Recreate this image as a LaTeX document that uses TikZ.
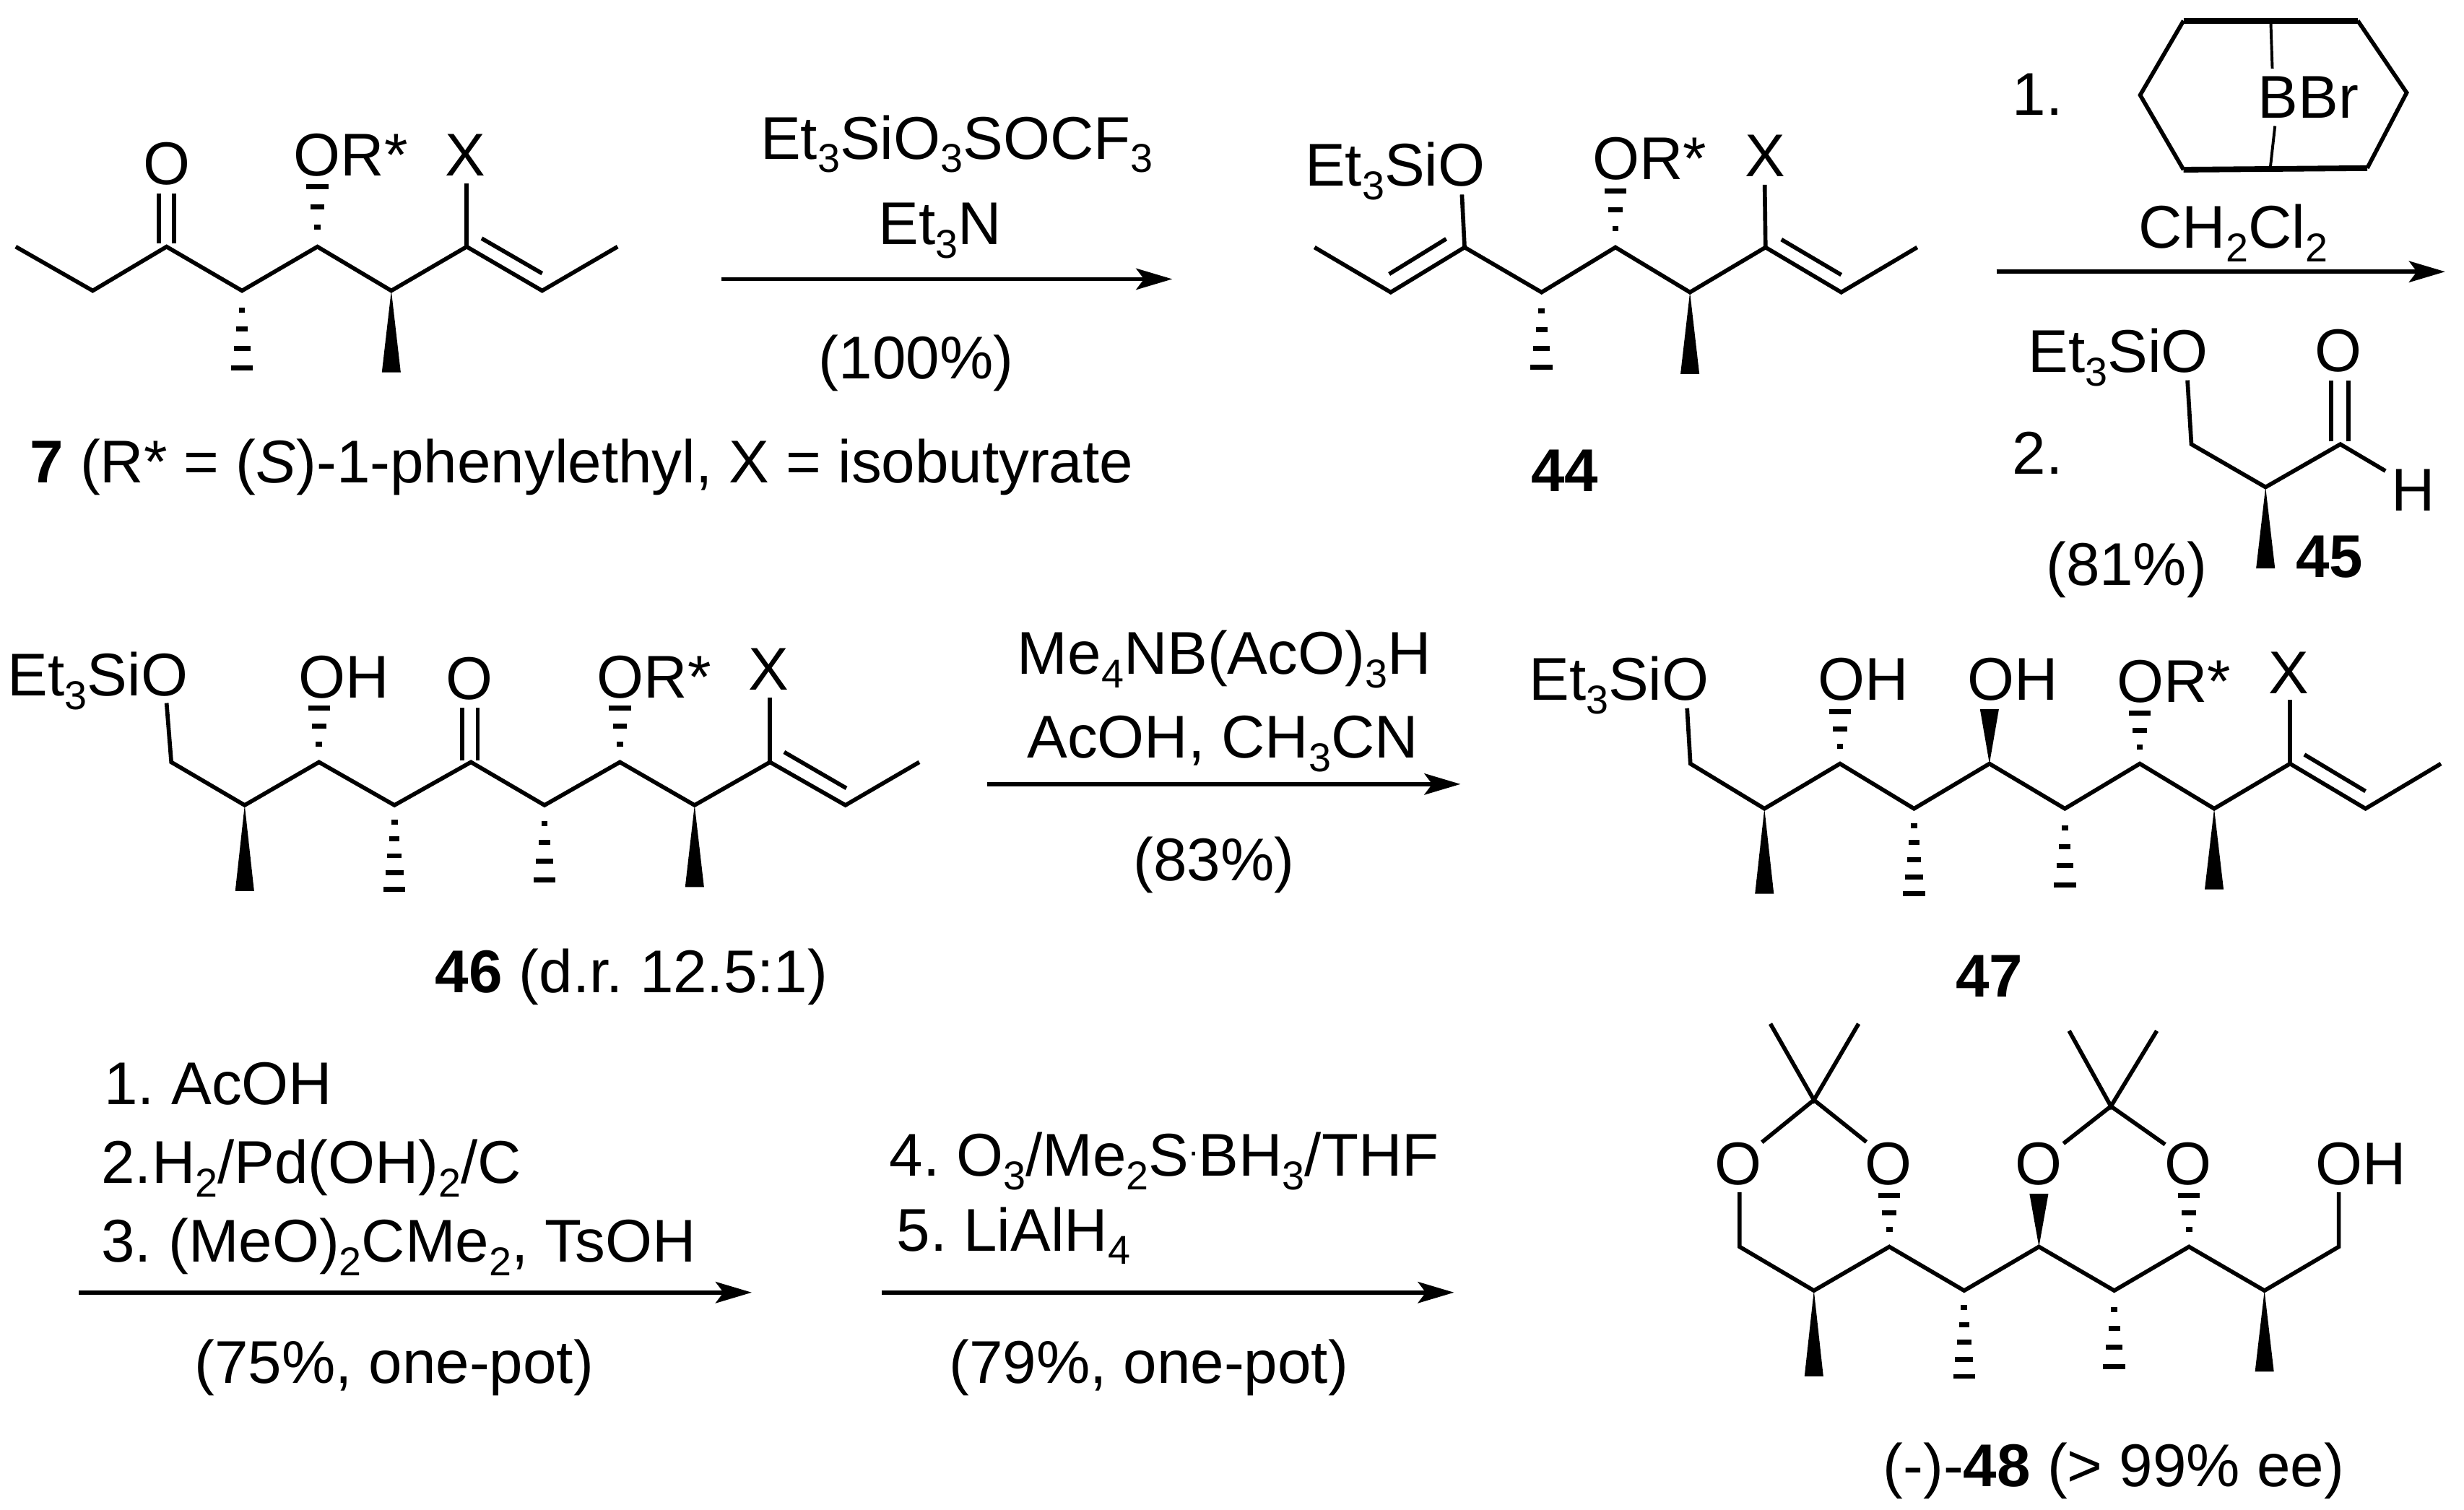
\documentclass[tikz,border=0pt]{standalone}
\usepackage{fontspec}
\setmainfont{Liberation Sans}
\usetikzlibrary{arrows.meta}
\frenchspacing
\newcommand\sbs[1]{\raisebox{-8.6pt}{\fontsize{25.6}{25.6}\selectfont #1}}
\newcommand\hdot{\raisebox{13pt}{\fontsize{22}{22}\selectfont .}}
\newcommand\hashb[4]{\foreach \i in {1,...,#4}{%
  \pgfmathsetmacro\yy{#2+(#3-#2)*\i/#4}%
  \pgfmathsetmacro\ww{2+5*(\i-1)/(#4-1)}%
  \draw[hashmark] (#1-\ww,\yy) -- (#1+\ww,\yy);}}
\newcommand\wedgeb[3]{\fill[black] (#1,#2) -- (#1-6,#3) -- (#1+6,#3) -- cycle;}
\tikzset{
  bond/.style={draw=black,line width=2.6pt,line join=miter},
  thickbond/.style={draw=black,line width=3.6pt,line join=miter},
  hashmark/.style={draw=black,line width=3.2pt},
  rxn/.style={draw=black,line width=2.6pt,-{Stealth[length=23pt,width=13.5pt,inset=5pt]}},
  lab/.style={inner sep=0pt,outer sep=0pt,anchor=base west,font=\fontsize{38.4}{38.4}\selectfont},
  clab/.style={lab,anchor=base},
  blab/.style={font=\fontsize{38.4}{38.4}\selectfont\bfseries}
}
\begin{document}
\begin{tikzpicture}[x=1pt,y=-1pt]
\useasboundingbox (0,0) rectangle (1568,960.5);
% ---------- 7
\draw[bond] (10,157) -- (59,185) -- (106,157) -- (154,185) -- (202,157) -- (249,185) -- (297,157) -- (345,185) -- (393,157);
\draw[bond] (101,155) -- (101,123);
\draw[bond] (110.6,155) -- (110.6,123);
\draw[bond] (297,157) -- (297,116.5);
\draw[bond] (306.5,151.7) -- (345,174);
\hashb{154}{185}{234}{4}
\wedgeb{249}{185}{237}
\hashb{202}{157}{119}{3}
\node[clab] (o7) at (106,117.5) {O};
\node[lab] (or7) at (187,112) {OR*};
\node[clab] (x7) at (296,112) {X};
\node[lab] (t7) at (19,307.2) {\textbf{7} (R* = (\textit{S})-1-phenylethyl, X = isobutyrate};
% arrow 1
\coordinate (a1s) at (459,177.6);
\coordinate (a1e) at (746,177.6);
\draw[rxn] (a1s) -- (a1e);
\node[lab] (r1a) at (484,101.2) {Et\sbs{3}SiO\sbs{3}SOCF\sbs{3}};
\node[lab] (r1b) at (559,155.5) {Et\sbs{3}N};
\node[clab] (r1c) at (583,241.2) {(100\%)};
% ---------- 44
\draw[bond] (836.5,157.4) -- (885,186) -- (932,157.4) -- (981,186) -- (1028,157.4) -- (1075.4,186) -- (1123.5,157.4) -- (1171.7,186) -- (1220,157.4);
\draw[bond] (932,157.4) -- (930.3,123.8);
\draw[bond] (1123.5,157.4) -- (1123,117.6);
\draw[bond] (884,174.4) -- (920.3,152);
\draw[bond] (1133.6,152.4) -- (1171.7,174.9);
\hashb{981}{186}{233.7}{4}
\wedgeb{1075.4}{186}{238}
\hashb{1028}{157.4}{121.6}{3}
\node[lab] (s44) at (830.5,118.5) {Et\sbs{3}SiO};
\node[lab] (or44) at (1013.6,114.3) {OR*};
\node[clab] (x44) at (1123.5,112.5) {X};
\node[clab,blab] (t44) at (995.6,312.5) {44};
% ---------- 9-BBN-Br and reagents
\draw[bond] (1389.5,13.2) -- (1361.9,60.5) -- (1389.5,108);
\draw[bond] (1500.4,13.2) -- (1531.5,59) -- (1506.4,107);
\draw[thickbond] (1389.5,13.2) -- (1500.4,13.2);
\draw[thickbond] (1389.5,108) -- (1506.4,107);
\draw[bond,line width=1.8pt] (1445,13.2) -- (1446,43.6);
\draw[bond,line width=1.8pt] (1447.7,80.2) -- (1444.7,107);
\node[lab] (bbr) at (1437,75.2) {BBr};
\node[lab] (n1) at (1280.6,73.5) {1.};
\node[lab] (cl) at (1361,157.9) {CH\sbs{2}Cl\sbs{2}};
\coordinate (a2s) at (1270.5,172.9);
\coordinate (a2e) at (1556,172.9);
\draw[rxn] (a2s) -- (a2e);
% ---------- 45
\draw[bond] (1392,242) -- (1394.5,282.7) -- (1441.7,310) -- (1489.3,282.7) -- (1518,299.7);
\draw[bond] (1483.3,281) -- (1483.3,242);
\draw[bond] (1494.3,281) -- (1494.3,242);
\wedgeb{1441.7}{310}{361.7}
\node[lab] (s45) at (1290.6,237.1) {Et\sbs{3}SiO};
\node[clab] (o45) at (1487.8,236.5) {O};
\node[clab] (h45) at (1535.5,325.1) {H};
\node[lab] (n2) at (1280.6,301.9) {2.};
\node[lab] (y45) at (1302,372.5) {(81\%)};
\node[lab,blab] (t45) at (1461,367.5) {45};
% ---------- 46
\draw[bond] (106,447.4) -- (109,485) -- (155.7,512.4) -- (203,485) -- (251,512.4) -- (299.7,485) -- (346.5,512.4) -- (394.5,485) -- (442,512.4) -- (490,485) -- (538,512.4) -- (585,485);
\draw[bond] (294.2,484) -- (294.2,450.3);
\draw[bond] (304,484) -- (304,450.3);
\draw[bond] (490,485) -- (490,444);
\draw[bond] (499,478.6) -- (538.6,501.6);
\hashb{203}{485}{450.8}{3}
\hashb{394.5}{485}{450.8}{3}
\hashb{251}{512.4}{566}{5}
\hashb{346.5}{512.4}{560}{4}
\wedgeb{155.7}{512.4}{567}
\wedgeb{442}{512.4}{564.5}
\node[lab] (s46) at (5,442.8) {Et\sbs{3}SiO};
\node[lab] (oh46) at (190,444.1) {OH};
\node[clab] (o46) at (298.5,445.2) {O};
\node[lab] (or46) at (380,444.1) {OR*};
\node[clab] (x46) at (489,439.1) {X};
\node[lab] (t46) at (277,631.5) {\textbf{46} (d.r. 12.5:1)};
% arrow 3
\coordinate (a3s) at (628,499);
\coordinate (a3e) at (929.4,499);
\draw[rxn] (a3s) -- (a3e);
\node[lab] (r3a) at (647.5,429.1) {Me\sbs{4}NB(AcO)\sbs{3}H};
\node[lab] (r3b) at (653.6,482.3) {AcOH, CH\sbs{3}CN};
\node[clab] (r3c) at (772.5,560.5) {(83\%)};
% ---------- 47
\draw[bond] (1073.6,450.7) -- (1075.7,486) -- (1122.8,514.6) -- (1170.9,486) -- (1218,514.6) -- (1266,486) -- (1314,514.6) -- (1361.7,486) -- (1409,514.6) -- (1457.3,486) -- (1505.3,514.6) -- (1553.3,486);
\draw[bond] (1457.3,486) -- (1457.3,445.5);
\draw[bond] (1466.4,480.2) -- (1505.3,503.5);
\hashb{1170.9}{486}{452.8}{3}
\hashb{1361.7}{486}{454}{3}
\hashb{1218}{514.6}{568.8}{5}
\hashb{1314}{514.6}{563}{4}
\wedgeb{1122.8}{514.6}{568.8}
\wedgeb{1409}{514.6}{566}
\wedgeb{1266}{486}{451.3}
\node[lab] (s47) at (973,445.7) {Et\sbs{3}SiO};
\node[lab] (oh47a) at (1156.8,445.5) {OH};
\node[lab] (oh47b) at (1252,445.5) {OH};
\node[lab] (or47) at (1347,447.1) {OR*};
\node[clab] (x47) at (1456.4,441.2) {X};
\node[clab,blab] (t47) at (1266,634.3) {47};
% ---------- bottom reagents
\node[lab] (b1) at (66.4,702.9) {1. AcOH};
\node[lab] (b2) at (64.5,753.1) {2.H\sbs{2}/Pd(OH)\sbs{2}/C};
\node[lab] (b3) at (64.5,803.2) {3. (MeO)\sbs{2}CMe\sbs{2}, TsOH};
\coordinate (a4s) at (50.3,822.5);
\coordinate (a4e) at (478.4,822.5);
\draw[rxn] (a4s) -- (a4e);
\node[lab] (b4) at (123.8,880.1) {(75\%, one-pot)};
\node[lab] (c1) at (566,748.6) {4. O\sbs{3}/Me\sbs{2}S\hdot BH\sbs{3}/THF};
\node[lab] (c2) at (570.6,796) {5. LiAlH\sbs{4}};
\coordinate (a5s) at (561,822.5);
\coordinate (a5e) at (925.3,822.5);
\draw[rxn] (a5s) -- (a5e);
\node[lab] (c3) at (604,880.1) {(79\%, one-pot)};
% ---------- 48
\draw[bond] (1107,758.7) -- (1107,793.4) -- (1154.3,821.3) -- (1202.3,793.4) -- (1249.9,821.3) -- (1297.5,793.4) -- (1345.4,821.3) -- (1393,793.4) -- (1441,821.3) -- (1488.3,793.4) -- (1488.3,758.7);
\draw[bond] (1121.2,726.9) -- (1154.3,700) -- (1187.7,726.7);
\draw[bond] (1126.6,651.5) -- (1154.3,700) -- (1182.7,651.5);
\draw[bond] (1313.1,727.7) -- (1343.3,704) -- (1377.8,728.3);
\draw[bond] (1316.7,656) -- (1343.3,704) -- (1372.5,656);
\hashb{1202.3}{793.4}{760.7}{3}
\hashb{1393}{793.4}{760.7}{3}
\hashb{1249.9}{821.3}{875.9}{5}
\hashb{1345.4}{821.3}{869.5}{4}
\wedgeb{1154.3}{821.3}{875.9}
\wedgeb{1441}{821.3}{872.9}
\wedgeb{1297.5}{793.4}{759.7}
\node[clab] (o48a) at (1106.3,753.7) {O};
\node[clab] (o48b) at (1201.9,753.7) {O};
\node[clab] (o48c) at (1297.1,753.7) {O};
\node[clab] (o48d) at (1392.3,753.7) {O};
\node[lab] (oh48) at (1473.5,753.7) {OH};
\node[lab] (t48) at (1198.3,946.2) {(-)-\textbf{48} (> 99\% ee)};
\end{tikzpicture}
\end{document}
